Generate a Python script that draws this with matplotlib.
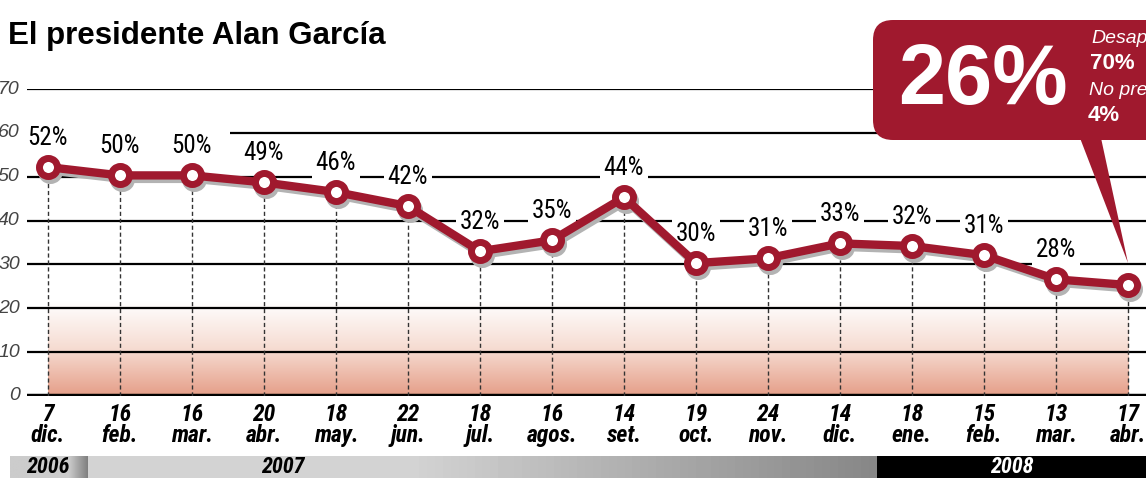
import matplotlib

matplotlib.use("Agg")
import matplotlib.font_manager as fm
import matplotlib.pyplot as plt
import matplotlib.transforms as mtransforms
import numpy as np
from matplotlib.colors import LinearSegmentedColormap
from matplotlib.patches import FancyBboxPatch, Polygon

# ---- data ----
days = ["7", "16", "16", "20", "18", "22", "18", "16", "14", "19", "24", "14", "18", "15", "13", "17"]
months = ["dic.", "feb.", "mar.", "abr.", "may.", "jun.", "jul.", "agos.", "set.",
          "oct.", "nov.", "dic.", "ene.", "feb.", "mar.", "abr."]
labels = [52, 50, 50, 49, 46, 42, 32, 35, 44, 30, 31, 33, 32, 31, 28, 26]
# where the points sit on the drawn scale (the original art is not exact)
plotted = [52.2, 50.3, 50.3, 48.7, 46.5, 43.3, 33.0, 35.5, 45.3, 30.3, 31.4, 34.8, 34.2, 32.1, 26.6, 25.3]
yticks = [0, 10, 20, 30, 40, 50, 60, 70]
years = ["2006", "2007", "2008"]
disapprove, no_answer = 70, 4

RED = "#a0192e"
W, H = 1146, 478
FONT = "Liberation Sans"

# pick a condensed face with a bold italic, in order of preference
installed = {f.name for f in fm.fontManager.ttflist}
prefs = ["Liberation Sans Narrow", "Nimbus Sans Narrow", "Arial Narrow", "Roboto Condensed",
         "Open Sans Condensed", "Barlow Condensed", "Asap Condensed"]
NARROW = next((n for n in prefs if n in installed), FONT)
shrink = 0.9 if NARROW == FONT else 1.0

fig = plt.figure(figsize=(W / 100, H / 100), dpi=100)
ax = fig.add_axes([27 / W, (H - 396) / H, 1 - 27 / W, (396 - 89) / H])
x = np.arange(len(plotted))
ax.set_xlim(-0.29, 15.25)
ax.set_ylim(0, 70)
ax.axis("off")

# gradient band at the bottom
cmap = LinearSegmentedColormap.from_list("band", ["#e59e88", "#f6dcd2", "#ffffff"])
grad = np.linspace(0, 1, 256).reshape(-1, 1)
ax.imshow(grad, cmap=cmap, extent=(x[0], x[-1], 0, 21.5), aspect="auto", origin="lower", zorder=0)

# horizontal rules
for t in yticks:
    start = 2.53 if t == 60 else -0.29
    ax.hlines(t, start, 15.25, color="black", lw=3.2 if t == 0 else 1.6, zorder=1)
    ax.text(-0.39, t, str(t), ha="right", va="center", fontsize=14, style="italic",
            color="#444444", family=FONT, clip_on=False)

# dashed drop lines
ax.vlines(x, 0, plotted, color="#333333", lw=1, linestyles=(0, (3, 2)), zorder=2)

# value labels (the last one is given by the callout)
for xi, yi, lab in zip(x[:-1], plotted[:-1], labels[:-1]):
    ax.annotate(f"{lab}%", (xi, yi), xytext=(0, 21), textcoords="offset points",
                ha="center", va="center", fontsize=18 * shrink, family=NARROW, zorder=2.5,
                bbox=dict(boxstyle="square,pad=0.15", fc="white", ec="none"))

# shadow + line
shadow = mtransforms.offset_copy(ax.transData, fig=fig, x=2.5, y=-3.5, units="dots")
ax.plot(x, plotted, color="#b3b3b3", lw=6, marker="o", ms=13, mew=5, mfc="#b3b3b3",
        mec="#b3b3b3", transform=shadow, zorder=3, solid_capstyle="round")
ax.plot(x, plotted, color=RED, lw=6, marker="o", ms=13, mew=5, mfc="white", mec=RED,
        zorder=4, solid_capstyle="round")

# date labels
for xi, d, m in zip(x, days, months):
    ax.annotate(f"{d}\n{m}", (xi, 0), xytext=(0, -5), textcoords="offset points",
                ha="center", va="top", fontsize=17 * shrink, family=NARROW, weight="bold",
                style="italic", linespacing=0.9, annotation_clip=False)

# overlay in pixel coordinates for title, callout and year strip
ov = fig.add_axes([0, 0, 1, 1], zorder=10)
ov.set_xlim(0, W)
ov.set_ylim(H, 0)
ov.axis("off")
ov.patch.set_alpha(0)

ov.text(8, 36, "El presidente Alan García", fontsize=22.5, weight="bold", family=FONT,
        ha="left", va="center")

# callout with tail towards the last point
fig.canvas.draw()
tip = ax.transData.transform((x[-1], plotted[-1]))
tipx, tipy = tip[0], H - tip[1] - 22
ov.add_patch(FancyBboxPatch((873, 20), 330, 120, boxstyle="round,pad=0,rounding_size=20",
                            fc=RED, ec="none"))
ov.add_patch(Polygon([(1080, 138), (1101, 138), (tipx, tipy)], closed=True, fc=RED, ec="none"))
ov.text(983, 82, f"{labels[-1]}%", fontsize=61, weight="bold", color="white", family=FONT,
        ha="center", va="center")
ov.text(1091, 38, "Desaprueba", fontsize=14, style="italic", color="white", family=FONT,
        va="center", ha="left")
ov.text(1090, 63, f"{disapprove}%", fontsize=16, weight="bold", color="white", family=FONT,
        va="center", ha="left")
ov.text(1089, 90, "No precisa", fontsize=14, style="italic", color="white", family=FONT,
        va="center", ha="left")
ov.text(1088, 115, f"{no_answer}%", fontsize=16, weight="bold", color="white", family=FONT,
        va="center", ha="left")

# year strip
g06 = np.concatenate([np.full(60, 0.80), np.linspace(0.80, 0.50, 20)]).reshape(1, -1)
ov.imshow(g06, cmap="gray", vmin=0, vmax=1, extent=(10, 88, 478, 456), aspect="auto")
g07 = np.concatenate([np.full(40, 0.83), np.linspace(0.83, 0.53, 60)]).reshape(1, -1)
ov.imshow(g07, cmap="gray", vmin=0, vmax=1, extent=(88, 877, 478, 456), aspect="auto")
ov.add_patch(plt.Rectangle((877, 456), W - 877, 22, fc="black", ec="none"))
ov.set_xlim(0, W)
ov.set_ylim(H, 0)
for xc, yr, col in zip([48, 283, 1012], years, ["black", "black", "white"]):
    ov.text(xc, 467, yr, fontsize=16 * shrink, weight="bold", style="italic", family=NARROW,
            color=col, ha="center", va="center")

fig.savefig("out.png", dpi=100)
